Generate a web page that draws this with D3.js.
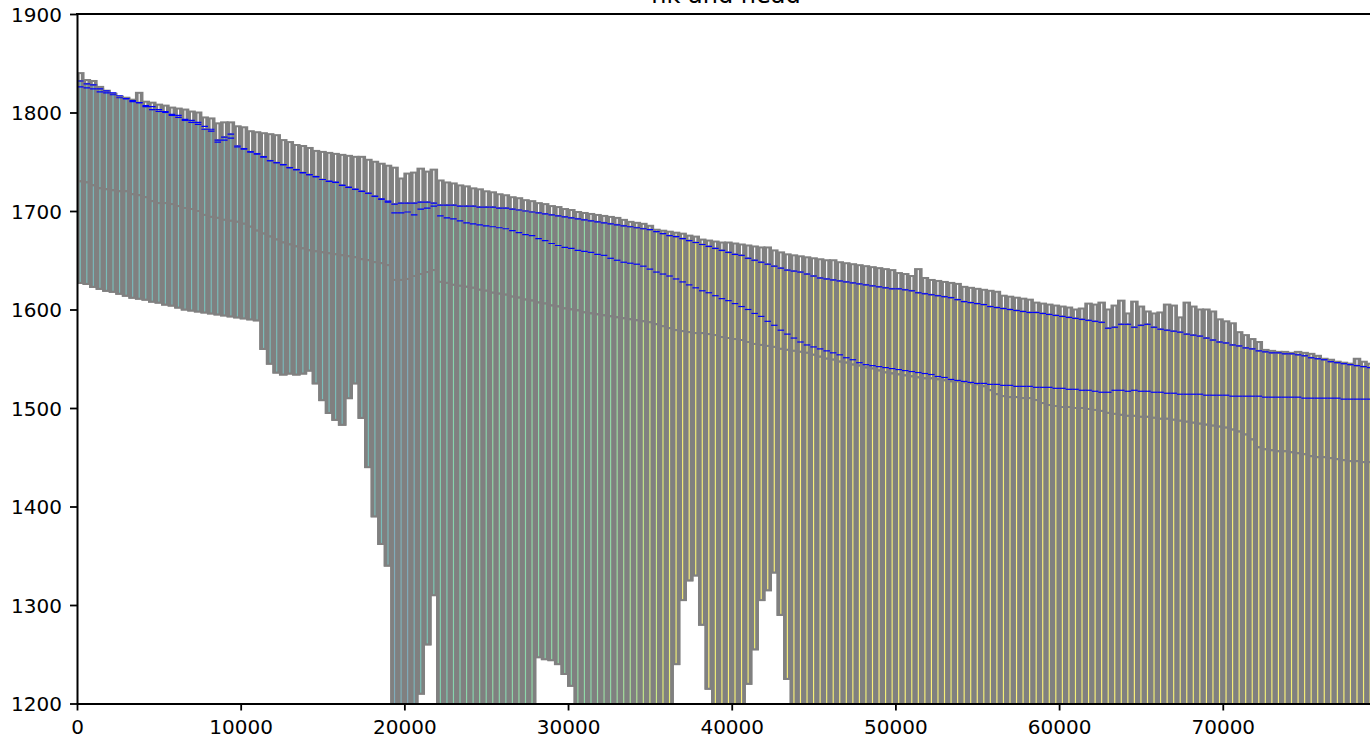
<!DOCTYPE html>
<html>
<head>
<meta charset="utf-8">
<script src="https://cdn.jsdelivr.net/npm/d3@7"></script>
<style>
  body { margin: 0; background: #fff; }
  svg { display: block; }
  text { font-family: "DejaVu Sans", "Liberation Sans", sans-serif; }
</style>
</head>
<body>
<svg id="chart" width="1370" height="740"></svg>
<script>
// Cross-section: two model layers, one entry per column (column width delr)
const delr = 400;

// land surface (top of layer 1), m
const topElev = [
  1840,1833,1832,1826,1822,1819,1816,1815,1813,1820,
  1811,1810,1808,1807,1805,1804,1803,1801,1800,1795,
  1794,1789,1790,1790,1786,1785,1781,1780,1779,1778,
  1777,1772,1770,1767,1766,1764,1761,1760,1759,1758,
  1757,1756,1755,1755,1752,1750,1748,1746,1744,1733,
  1738,1739,1743,1740,1742,1731,1729,1728,1726,1725,
  1723,1722,1720,1719,1717,1716,1714,1713,1711,1710,
  1708,1707,1705,1704,1702,1701,1699,1698,1697,1696,
  1695,1694,1693,1691,1689,1688,1687,1685,1681,1680,
  1679,1678,1677,1675,1674,1671,1670,1669,1668,1668,
  1667,1666,1665,1664,1663,1663,1660,1658,1656,1655,
  1654,1653,1652,1651,1650,1650,1648,1647,1646,1645,
  1644,1643,1642,1641,1640,1637,1636,1634,1641,1632,
  1630,1629,1628,1627,1626,1623,1622,1621,1620,1619,
  1618,1614,1613,1612,1611,1610,1607,1606,1605,1604,
  1603,1602,1600,1601,1606,1605,1607,1600,1604,1609,
  1596,1608,1603,1598,1596,1597,1605,1604,1592,1607,
  1603,1600,1600,1598,1590,1588,1586,1577,1574,1570,
  1567,1559,1558,1557,1557,1556,1557,1556,1555,1553,
  1550,1549,1547,1546,1545,1550,1547,1545
];

// bottom of layer 1, m
const botLayer1 = [
  1730,1729,1726,1723,1722,1721,1720,1720,1717,1716,
  1714,1710,1708,1708,1707,1705,1703,1702,1700,1696,
  1694,1693,1691,1690,1689,1687,1684,1680,1677,1674,
  1671,1668,1666,1664,1662,1660,1659,1658,1657,1656,
  1655,1654,1653,1651,1650,1648,1647,1645,1630,1630,
  1631,1634,1636,1638,1640,1628,1627,1625,1624,1623,
  1622,1620,1619,1617,1616,1615,1613,1612,1610,1609,
  1607,1606,1604,1603,1601,1600,1599,1597,1596,1595,
  1594,1593,1592,1591,1590,1589,1588,1587,1585,1583,
  1581,1579,1578,1577,1576,1576,1575,1574,1572,1571,
  1570,1569,1567,1565,1564,1563,1562,1560,1559,1558,
  1557,1556,1554,1552,1550,1549,1547,1546,1544,1543,
  1541,1540,1538,1536,1535,1534,1533,1532,1531,1530,
  1530,1529,1528,1527,1527,1526,1525,1524,1522,1518,
  1514,1512,1511,1511,1510,1510,1508,1505,1503,1502,
  1501,1501,1500,1500,1499,1498,1497,1495,1494,1493,
  1492,1492,1491,1491,1490,1489,1489,1488,1487,1486,
  1485,1484,1483,1482,1481,1480,1478,1476,1473,1468,
  1460,1458,1457,1456,1456,1455,1454,1453,1451,1450,
  1450,1449,1448,1447,1446,1446,1445,1445
];

// bottom of layer 2, m
const botLayer2 = [
  1627,1626,1623,1621,1619,1618,1616,1614,1612,1611,
  1610,1608,1607,1605,1604,1602,1600,1599,1598,1597,
  1596,1595,1594,1593,1592,1591,1590,1589,1560,1545,
  1536,1534,1535,1534,1535,1538,1525,1508,1495,1488,
  1483,1510,1525,1490,1440,1390,1362,1340,1150,1150,
  1150,1150,1210,1260,1310,1150,1150,1150,1150,1150,
  1150,1150,1150,1150,1150,1150,1150,1150,1150,1150,
  1247,1245,1244,1240,1230,1218,1150,1150,1150,1150,
  1150,1150,1150,1150,1150,1150,1150,1150,1150,1150,
  1150,1240,1305,1325,1330,1280,1215,1150,1150,1150,
  1150,1150,1220,1255,1305,1315,1333,1290,1225,1150,
  1150,1150,1150,1150,1150,1150,1150,1150,1150,1150,
  1150,1150,1150,1150,1150,1150,1150,1150,1150,1150,
  1150,1150,1150,1150,1150,1150,1150,1150,1150,1150,
  1150,1150,1150,1150,1150,1150,1150,1150,1150,1150,
  1150,1150,1150,1150,1150,1150,1150,1150,1150,1150,
  1150,1150,1150,1150,1150,1150,1150,1150,1150,1150,
  1150,1150,1150,1150,1150,1150,1150,1150,1150,1150,
  1150,1150,1150,1150,1150,1150,1150,1150,1150,1150,
  1150,1150,1150,1150,1150,1150,1150,1150
];

// simulated head in layer 1, m
const headLayer1 = [
  1832,1829,1828,1824,1822,1820,1817,1814,1812,1810,
  1806,1803,1801,1800,1797,1795,1792,1790,1788,1783,
  1781,1772,1775,1778,1766,1763,1760,1758,1755,1751,
  1749,1747,1744,1742,1739,1737,1735,1732,1730,1729,
  1726,1724,1722,1720,1718,1715,1712,1709,1707,1708,
  1708,1708,1709,1709,1708,1706,1706,1706,1705,1705,
  1705,1704,1704,1704,1703,1703,1702,1701,1700,1699,
  1698,1697,1696,1695,1694,1693,1692,1691,1690,1689,
  1688,1687,1686,1685,1684,1683,1682,1681,1679,1677,
  1675,1674,1672,1670,1668,1666,1664,1662,1660,1658,
  1656,1655,1652,1650,1648,1646,1644,1642,1640,1639,
  1638,1636,1634,1632,1631,1630,1629,1628,1627,1626,
  1625,1624,1623,1622,1621,1621,1620,1619,1617,1616,
  1615,1614,1613,1612,1610,1608,1607,1606,1605,1603,
  1602,1601,1600,1599,1598,1597,1597,1596,1595,1594,
  1593,1592,1591,1590,1589,1588,1587,1581,1582,1585,
  1585,1582,1584,1585,1582,1580,1579,1578,1577,1575,
  1574,1573,1571,1569,1567,1566,1564,1563,1561,1560,
  1558,1557,1556,1556,1555,1555,1554,1553,1551,1550,
  1549,1547,1546,1545,1544,1543,1542,1541
];

// simulated head in layer 2, m
const headLayer2 = [
  1826,1825,1824,1821,1820,1818,1815,1814,1811,1810,
  1807,1806,1803,1801,1798,1797,1793,1792,1790,1786,
  1783,1770,1772,1774,1765,1763,1760,1758,1755,1751,
  1749,1747,1744,1742,1739,1737,1735,1732,1730,1729,
  1726,1724,1722,1720,1718,1715,1712,1710,1698,1698,
  1699,1696,1702,1703,1705,1695,1693,1692,1690,1688,
  1687,1686,1685,1684,1683,1682,1680,1678,1676,1675,
  1672,1670,1667,1665,1663,1662,1660,1659,1658,1656,
  1655,1652,1650,1648,1647,1646,1644,1641,1638,1636,
  1634,1631,1628,1625,1622,1619,1617,1614,1611,1609,
  1606,1603,1600,1596,1593,1588,1584,1579,1575,1571,
  1567,1564,1562,1560,1558,1556,1554,1551,1549,1546,
  1544,1543,1542,1541,1540,1539,1538,1537,1536,1535,
  1534,1532,1531,1529,1528,1527,1526,1525,1525,1524,
  1524,1523,1523,1522,1522,1522,1521,1521,1521,1520,
  1520,1519,1519,1518,1518,1517,1516,1516,1518,1518,
  1517,1518,1517,1517,1516,1516,1515,1515,1514,1514,
  1514,1514,1513,1513,1513,1513,1512,1512,1512,1512,
  1512,1511,1511,1511,1511,1511,1511,1510,1510,1510,
  1510,1510,1510,1509,1509,1509,1509,1509
];

// horizontal hydraulic conductivity per column, m/d
const hk = [
  10,10,9,10,10,11,10,10,9,10,10,10,11,10,9,10,10,10,10,11,
  10,10,9,10,10,10,10,11,10,10,10,9,10,10,10,10,11,10,10,10,
  9,10,10,10,11,10,10,9,
  6,7,6,8,12,14,16,
  20,18,22,20,24,22,25,23,26,24,22,25,27,24,26,25,23,26,28,25,
  24,27,26,25,28,30,27,32,35,38,42,
  50,60,55,70,75,
  85,90,95,88,92,100,86,90,94,88,
  96,90,85,92,98,90,87,93,90,100,
  88,91,95,86,90,97,89,92,90,85,
  94,99,88,90,92,96,87,90,93,100,
  89,91,86,95,90,92,98,88,90,94,
  87,91,100,90,93,89,95,86,90,92,
  97,88,91,90,94,99,87,90,93,88,
  96,90,92,85,91,98,89,90,94,87,
  92,100,90,88,95,91,89,93,90,97,
  86,92,90,94,88,99,91,90,87,93,
  95,89,92,90,96,88,91
];

const yTicks = [1200, 1300, 1400, 1500, 1600, 1700, 1800, 1900];
const xTicks = [0, 10000, 20000, 30000, 40000, 50000, 60000, 70000];

const svg = d3.select("#chart");
const plot = { left: 77, right: 1375, top: 14, bottom: 703.5 };

const x = d3.scaleLinear().domain([0, 79300]).range([plot.left, plot.right]);
const y = d3.scaleLinear().domain([1200, 1900]).range([plot.bottom, plot.top]);

// hk colour: viridis on log10(hk), lightened
const hkColor = v => {
  const base = d3.interpolateViridis(Math.max(0, Math.min(1, Math.log10(v) / 2)));
  return d3.interpolateRgb(base, "#ffffff")(0.4);
};

svg.append("defs").append("clipPath").attr("id", "plotArea")
  .append("rect")
  .attr("x", plot.left).attr("y", plot.top)
  .attr("width", plot.right - plot.left).attr("height", plot.bottom - plot.top);

const g = svg.append("g").attr("clip-path", "url(#plotArea)");

const ncol = topElev.length;
const EDGE = "#808080";
const FACE_W = 1.15; // visible face width inside each gray-edged cell

// build cell records: full cells (unsaturated face) and saturated parts (hk face)
const layers = [
  { top: topElev, bot: botLayer1, head: headLayer1 },
  { top: botLayer1, bot: botLayer2, head: headLayer2 }
];

const cells = [];
layers.forEach(L => {
  for (let i = 0; i < ncol; i++) {
    const c = { x0: i * delr, x1: (i + 1) * delr };
    cells.push({ ...c, top: L.top[i], bot: L.bot[i], face: "#ffffff" });
    const wt = Math.min(L.head[i], L.top[i]);
    if (wt > L.bot[i]) cells.push({ ...c, top: wt, bot: L.bot[i], face: hkColor(hk[i]) });
  }
});

const cellG = g.selectAll("g.cell").data(cells).join("g").attr("class", "cell");
cellG.append("rect")
  .attr("x", d => x(d.x0) - 1)
  .attr("y", d => y(d.top) - 1)
  .attr("width", d => x(d.x1) - x(d.x0) + 2)
  .attr("height", d => y(d.bot) - y(d.top) + 2)
  .attr("fill", EDGE);
cellG.append("rect")
  .attr("x", d => (x(d.x0) + x(d.x1)) / 2 - FACE_W / 2)
  .attr("y", d => y(d.top) + 1)
  .attr("width", FACE_W)
  .attr("height", d => Math.max(0, y(d.bot) - y(d.top) - 2))
  .attr("fill", d => d.face);

// head in each column, one horizontal segment per cell
const heads = [];
layers.forEach(L => {
  for (let i = 0; i < ncol; i++) heads.push({ x0: i * delr, x1: (i + 1) * delr, h: L.head[i] });
});
g.selectAll("line.head").data(heads).join("line")
  .attr("class", "head")
  .attr("x1", d => x(d.x0)).attr("x2", d => x(d.x1))
  .attr("y1", d => y(d.h)).attr("y2", d => y(d.h))
  .attr("stroke", "#0000ff").attr("stroke-width", 1.2);

// axes
const yAxis = d3.axisLeft(y).tickValues(yTicks).tickFormat(d3.format("d"))
  .tickSize(7).tickSizeOuter(0).tickPadding(8);
const xAxis = d3.axisBottom(x).tickValues(xTicks).tickFormat(d3.format("d"))
  .tickSize(7).tickSizeOuter(0).tickPadding(9);

const ya = svg.append("g").attr("transform", `translate(${plot.left},0)`).call(yAxis);
const xa = svg.append("g").attr("transform", `translate(0,${plot.bottom})`).call(xAxis);
[ya, xa].forEach(a => {
  a.select(".domain").attr("stroke", "#000").attr("stroke-width", 2);
  a.selectAll(".tick line").attr("stroke", "#000").attr("stroke-width", 1.8);
  a.selectAll(".tick text").attr("fill", "#000").attr("font-size", 20)
    .attr("font-family", "DejaVu Sans, sans-serif");
});
ya.selectAll(".tick text").attr("dy", "0.35em");

// top and right frame lines
svg.append("line").attr("x1", plot.left - 1).attr("x2", plot.right + 1)
  .attr("y1", plot.top).attr("y2", plot.top).attr("stroke", "#000").attr("stroke-width", 2);
svg.append("line").attr("x1", plot.right).attr("x2", plot.right)
  .attr("y1", plot.top).attr("y2", plot.bottom).attr("stroke", "#000").attr("stroke-width", 2);

svg.append("text")
  .attr("x", (plot.left + plot.right) / 2).attr("y", 3)
  .attr("text-anchor", "middle").attr("font-size", 24).attr("fill", "#000")
  .text("hk and head");
</script>
</body>
</html>
